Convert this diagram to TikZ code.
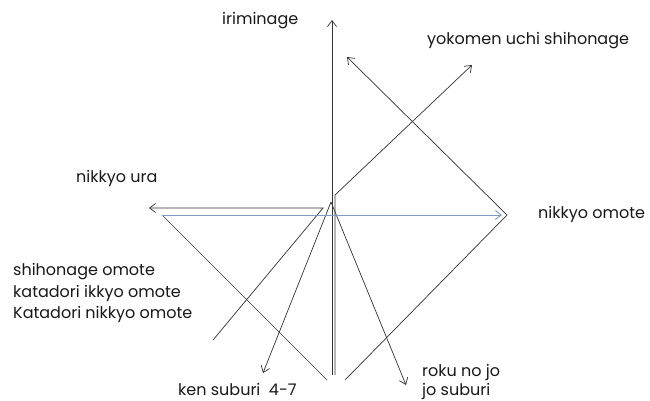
\documentclass[tikz,border=0pt]{standalone}
\usepackage{fontspec}
\setmainfont{Poppins}
\usetikzlibrary{arrows.meta}
\definecolor{steel}{RGB}{125,155,195}
\begin{document}
\begin{tikzpicture}[x=1pt,y=-1pt,
  ln/.style={draw=black!80,line width=0.7pt},
  arr/.style={ln,-{Straight Barb[length=6pt,width=9pt]}},
  bluearr/.style={draw=steel,line width=0.9pt,-{Straight Barb[length=6pt,width=9pt]}},
  lbl/.style={anchor=base west,inner sep=0pt,font=\fontsize{16}{20}\selectfont,text=black!90}]
\useasboundingbox[fill=white] (0,0) rectangle (650,401);
% points
\coordinate (top) at (332,20);
\coordinate (bot1) at (332,375);
\coordinate (bot2) at (335,375);
\coordinate (bend) at (335,195);
\coordinate (yoko) at (472,65);
\coordinate (L) at (162,215);
\coordinate (Rtip) at (502,215);
\coordinate (leftbot) at (327,380);
\coordinate (rightbot) at (345,380);
\coordinate (R) at (507,215);
\coordinate (upl) at (347,57);
\coordinate (ura0) at (323,208);
\coordinate (uratip) at (149,208);
\coordinate (shiend) at (213,340);
\coordinate (apex) at (331,202);
\coordinate (ken) at (263,373);
\coordinate (roku) at (406,385);
% connectors
\draw[arr] (bot1) -- (top);
\draw[arr] (bot2) -- (bend) -- (yoko);
\draw[arr] (rightbot) -- (R) -- (upl);
\draw[ln] (L) -- (leftbot);
\draw[arr] (shiend) -- (ura0) -- (uratip);
\draw[arr] (apex) -- (ken);
\draw[arr] (apex) -- (roku);
\draw[bluearr] (L) -- (Rtip);
% labels
\node[lbl] (iri) at (222,25) {iriminage};
\node[lbl] (yok) at (427,45) {yokomen uchi shihonage};
\node[lbl] (ura) at (76,182) {nikkyo ura};
\node[lbl] (omo) at (538,218) {nikkyo omote};
\node[lbl] (shi1) at (13,275) {shihonage omote};
\node[lbl] (shi2) at (13,297) {katadori ikkyo omote};
\node[lbl] (shi3) at (13,318) {Katadori nikkyo omote};
\node[lbl] (kens) at (178,395) {ken suburi\ \ 4-7};
\node[lbl] (rok1) at (422,376) {roku no jo};
\node[lbl] (rok2) at (422,395) {jo suburi};
\end{tikzpicture}
\end{document}
